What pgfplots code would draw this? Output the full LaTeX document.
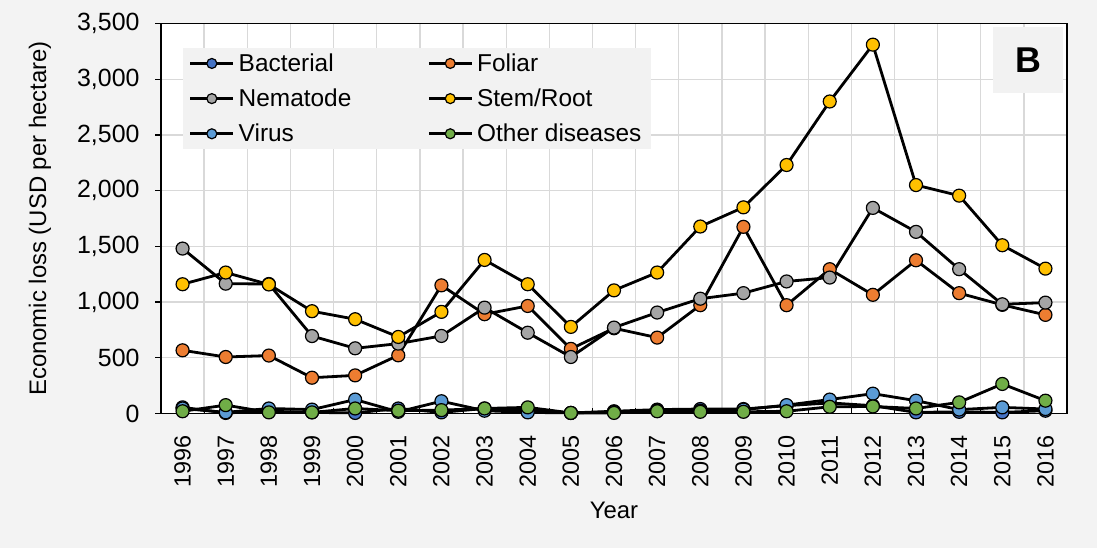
\documentclass[border=0pt]{standalone}
\usepackage{pgfplots}
\pgfplotsset{compat=1.18}
\usepackage{pgfplotstable}
\usepackage{fontspec}
\setmainfont{Liberation Sans}
\definecolor{bgc}{HTML}{F3F3F3}
\definecolor{legc}{HTML}{F2F2F2}
\definecolor{gridc}{HTML}{D9D9D9}
\definecolor{cBac}{HTML}{4472C4}
\definecolor{cFol}{HTML}{ED7D31}
\definecolor{cNem}{HTML}{A5A5A5}
\definecolor{cSte}{HTML}{FFC000}
\definecolor{cVir}{HTML}{5B9BD5}
\definecolor{cOth}{HTML}{70AD47}

\pgfplotstableread{
x Bac Fol Nem Ste Vir Oth
0  55  567 1480 1160  45  20
1  5   507 1165 1265  10  75
2  20  520 1162 1158  45  10
3  10  321  695  918  35  10
4  5   342  585  846 125  45
5  45  522  627  687  15  25
6  10  1150 696  912 110  30
7  45  891  950 1378  25  45
8  30  965  725 1160  10  55
9  5   580  507  777   5   5
10 20  765  771 1105  15   5
11 35  681  906 1265  25  20
12 40  972 1030 1678  25  15
13 40  1675 1080 1850 35  15
14 70  972 1185 2230  75  20
15 95  1295 1220 2800 125 60
16 70  1065 1845 3310 178  63
17 10  1375 1630 2050 115  45
18 15  1080 1295 1955  35 100
19 10  975  980 1510  55 265
20 25  885  995 1300  40 115
}\datatable

\pgfplotsset{
  ser/.style={draw=black, line width=2.8bp, mark=*, mark size=6.5bp,
    mark options={fill=#1, draw=black, line width=1.2bp, solid}},
}

\begin{document}
\begin{tikzpicture}[x=1bp,y=1bp]
\fill[bgc] (0,0) rectangle (1097,548);
\useasboundingbox (0,0) rectangle (1097,548);
\begin{axis}[
  at={(161bp,134.5bp)}, anchor=south west,
  scale only axis, width=906bp, height=390bp,
  axis background/.style={fill=white},
  xmin=-0.5, xmax=20.5, ymin=0, ymax=3500,
  xtick={0,...,20},
  xticklabels={1996,1997,1998,1999,2000,2001,2002,2003,2004,2005,2006,2007,2008,2009,2010,2011,2012,2013,2014,2015,2016},
  ytick={0,500,...,3500},
  minor xtick={0.5,1.5,...,19.5},
  major x tick style={draw=none},
  minor x tick style={draw=black, line width=1bp, yshift=5bp},
  tick align=outside,
  xtick pos=left, ytick pos=left,
  major tick length=6bp, minor tick length=5bp,
  y tick style={draw=black, line width=1.2bp},
  xminorgrids=true, ymajorgrids=true,
  major grid style={draw=gridc, line width=1.3bp},
  minor grid style={draw=gridc, line width=1.3bp},
  axis line style={line width=1.6bp},
  tick label style={font=\fontsize{25}{29}\selectfont},
  /pgf/number format/assume math mode=true,
  scaled y ticks=false,
  yticklabel style={/pgf/number format/1000 sep={,}, xshift=-12bp},
  xticklabel style={rotate=90, anchor=east, xshift=-12bp, font=\fontsize{23.5}{27}\selectfont},
  xlabel={Year},
  ylabel={Economic loss (USD per hectare)},
  label style={font=\fontsize{24}{28}\selectfont},
  xlabel style={at={(axis description cs:0.5,-0.249)}, anchor=center},
  ylabel style={at={(axis description cs:-0.1336,0.5)}, anchor=center},
  legend columns=2,
  legend cell align=left,
  legend style={at={(axis description cs:0.024,0.938)}, anchor=north west,
    fill=legc, draw=none, font=\fontsize{24.5}{28}\selectfont,
    inner xsep=6bp, inner ysep=4bp,
    row sep=12bp,
    nodes={inner xsep=4bp},
    /tikz/every even column/.append style={column sep=72bp}},
  legend image code/.code={
    \draw[#1, line width=2.8bp] (0bp,0bp) -- (43bp,0bp);
    \draw[#1, mark size=5bp] plot coordinates {(21.5bp,0bp)};
  },
  clip=false,
]
\addplot[ser=cBac] table[x=x, y=Bac] {\datatable};
\addlegendentry{Bacterial}
\addplot[ser=cFol] table[x=x, y=Fol] {\datatable};
\addlegendentry{Foliar}
\addplot[ser=cNem] table[x=x, y=Nem] {\datatable};
\addlegendentry{Nematode}
\addplot[ser=cSte] table[x=x, y=Ste] {\datatable};
\addlegendentry{Stem/Root}
\addplot[ser=cVir] table[x=x, y=Vir] {\datatable};
\addlegendentry{Virus}
\addplot[ser=cOth] table[x=x, y=Oth] {\datatable};
\addlegendentry{Other diseases}
\end{axis}
\fill[legc] (993,455) rectangle (1063,521);
\node[font=\fontsize{36}{40}\selectfont\bfseries] at (1028,488) {B};
\end{tikzpicture}
\end{document}
